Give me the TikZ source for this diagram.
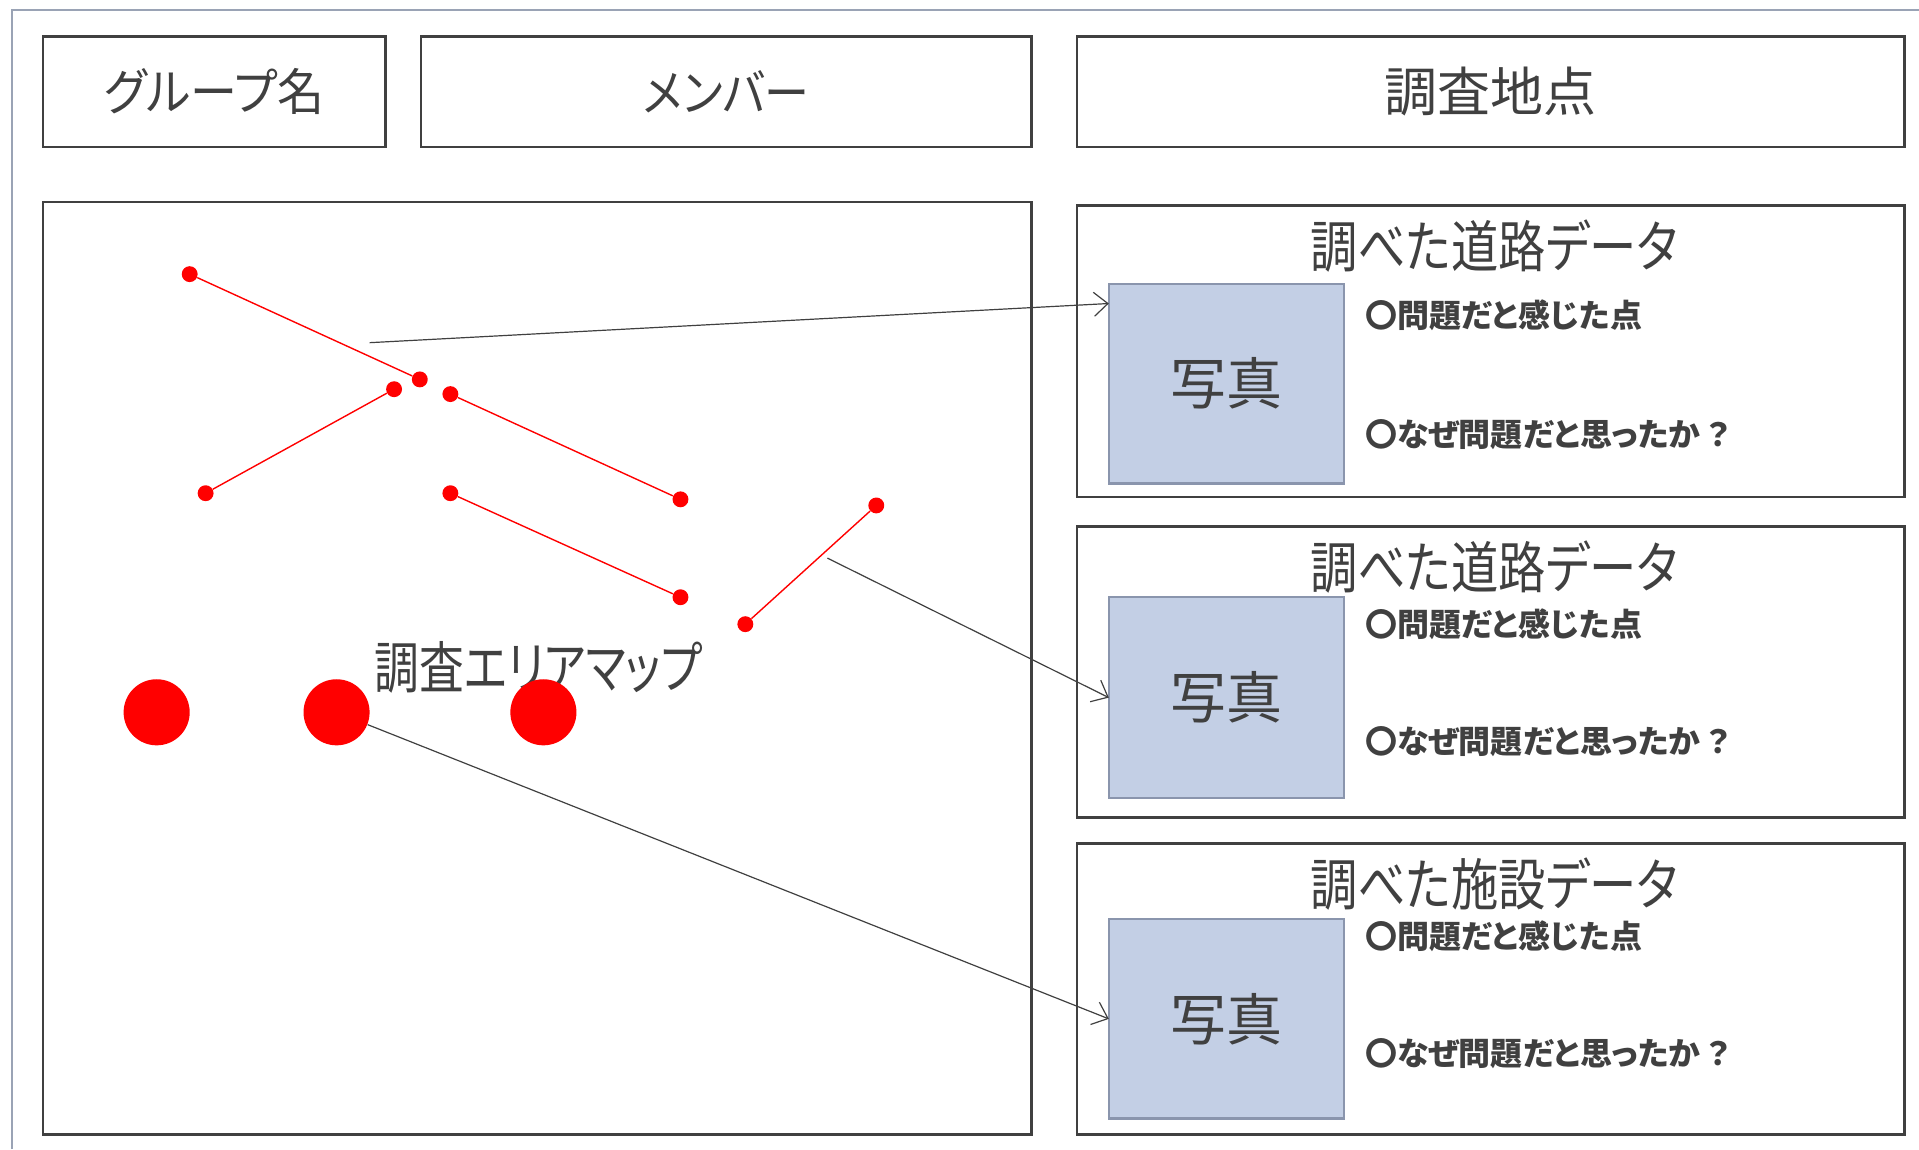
\documentclass[tikz,border=0pt]{standalone}
\usepackage{fontspec}
\setmainfont{Noto Sans CJK JP}[RawFeature={+palt}]
\newfontfamily\condmap{Noto Sans CJK JP}[RawFeature={+palt},FakeStretch=0.80]
\newfontfamily\condtitle{Noto Sans CJK JP}[RawFeature={+palt},FakeStretch=0.845]
\newfontfamily\condmem{Noto Sans CJK JP}[RawFeature={+palt},FakeStretch=0.90]
\newfontfamily\condgrp{Noto Sans CJK JP}[RawFeature={+palt},FakeStretch=0.94]
\usetikzlibrary{arrows.meta,calc}
\definecolor{txt}{HTML}{404040}
\definecolor{framec}{HTML}{9AA3B5}
\definecolor{photofill}{HTML}{C3CFE5}
\definecolor{photoedge}{HTML}{8A95AD}
\def\U{0.6119pt}
\begin{document}
\begin{tikzpicture}[x=\U,y=-\U,
  box/.style={draw=txt,line width=1.3pt,inner sep=0pt,outer sep=0pt,anchor=north west,text=txt},
  head/.style={box,minimum height={90*\U}},
  panel/.style={box,minimum width={676*\U},minimum height={238*\U}},
  photo/.style={draw=photoedge,fill=photofill,line width=1.2pt,inner sep=0pt,outer sep=0pt,anchor=north west,
    minimum width={192*\U},text=txt,font=\fontsize{28}{33}\selectfont},
  ptitle/.style={text=txt,font=\condtitle\fontsize{28}{33}\selectfont,inner sep=0pt},
  maptitle/.style={text=txt,font=\condmap\fontsize{28}{33}\selectfont,inner sep=0pt},
  note/.style={text=txt,font=\bfseries\fontsize{16}{19}\selectfont,anchor=west,inner sep=0pt},
  dot/.style={circle,fill=red,inner sep=0pt,minimum size={13*\U}},
  bigdot/.style={circle,fill=red,inner sep=0pt,minimum size={54*\U}},
  road/.style={red,line width=0.7pt},
  conn/.style={draw=txt,line width=0.6pt,-{Straight Barb[length=7pt,width=12pt]}}]
\useasboundingbox (0,0) rectangle (1568,939);
\draw[framec,line width=1.2pt] (10,939) -- (10,8) -- (1568,8);

% header boxes
\node[head,minimum width={280*\U},font=\condgrp\fontsize{25}{30}\selectfont] (group) at (35,30) {グループ名};
\node[head,minimum width={499*\U},font=\condmem\fontsize{25}{30}\selectfont] (member) at (344,30) {メンバー};
\node[head,minimum width={676*\U},font=\fontsize{26.5}{31}\selectfont] (site) at (880,30) {調査地点};

% map box
\node[box,minimum width={808*\U},minimum height={762*\U}] (map) at (35,165) {};
\node[maptitle] (maplabel) at (440,545) {調査エリアマップ};

% roads
\node[dot] (d1) at (155,224) {};
\node[dot] (d2) at (343,310) {};
\node[dot] (d3) at (322,318) {};
\node[dot] (d4) at (168,403) {};
\node[dot] (d5) at (368,322) {};
\node[dot] (d6) at (556,408) {};
\node[dot] (d7) at (368,403) {};
\node[dot] (d8) at (556,488) {};
\node[dot] (d9) at (716,413) {};
\node[dot] (d10) at (609,510) {};
\draw[road] (d1) -- (d2);
\draw[road] (d3) -- (d4);
\draw[road] (d5) -- (d6);
\draw[road] (d7) -- (d8);
\draw[road] (d9) -- (d10);

% facilities
\node[bigdot] (c1) at (128,582) {};
\node[bigdot] (c2) at (275,582) {};
\node[bigdot] (c3) at (444,582) {};

% panel 1
\node[panel] (p1) at (880,168) {};
\node[ptitle] (t1) at (1221,201) {調べた道路データ};
\node[photo,minimum height={163*\U}] (photo1) at (906,232) {写真};
\node[note] (n1a) at (1115,258) {〇問題だと感じた点};
\node[note] (n1b) at (1115,355) {〇なぜ問題だと思ったか\hspace{3.5pt}？};

% panel 2
\node[panel] (p2) at (880,430) {};
\node[ptitle] (t2) at (1221,463) {調べた道路データ};
\node[photo,minimum height={164*\U}] (photo2) at (906,488) {写真};
\node[note] (n2a) at (1115,510) {〇問題だと感じた点};
\node[note] (n2b) at (1115,606) {〇なぜ問題だと思ったか\hspace{3.5pt}？};

% panel 3
\node[panel] (p3) at (880,689) {};
\node[ptitle] (t3) at (1221,722) {調べた施設データ};
\node[photo,minimum height={163*\U}] (photo3) at (906,751) {写真};
\node[note] (n3a) at (1115,765) {〇問題だと感じた点};
\node[note] (n3b) at (1115,861) {〇なぜ問題だと思ったか\hspace{3.5pt}？};

% connectors
\coordinate (a1s) at (302,280);
\coordinate (a2s) at (676,456);
\draw[conn] (a1s) -- ($(photo1.north west)+(0,16)$);
\draw[conn] (a2s) -- (photo2.west);
\draw[conn] (c2) -- (photo3.west);
\end{tikzpicture}
\end{document}
